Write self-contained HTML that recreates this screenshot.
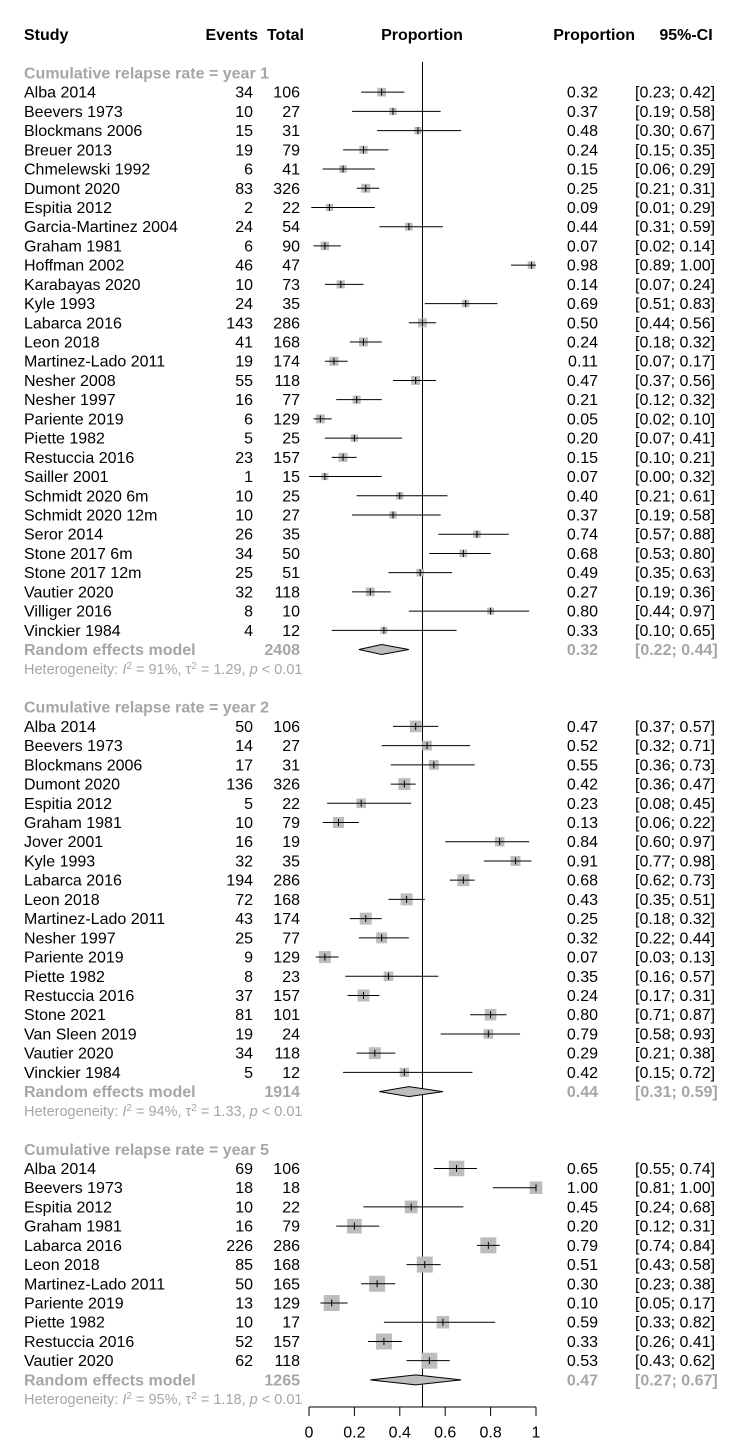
<!DOCTYPE html>
<html><head><meta charset="utf-8"><style>
html,body{margin:0;padding:0;background:#fff;}
svg{display:block;font-family:"Liberation Sans",Arial,sans-serif;}
</style></head><body>
<svg id="plot" width="740" height="1450" viewBox="0 0 740 1450" xmlns="http://www.w3.org/2000/svg"></svg>
<script>
const g1Names=["Alba 2014","Beevers 1973","Blockmans 2006","Breuer 2013","Chmelewski 1992","Dumont 2020","Espitia 2012","Garcia-Martinez 2004","Graham 1981","Hoffman 2002","Karabayas 2020","Kyle 1993","Labarca 2016","Leon 2018","Martinez-Lado 2011","Nesher 2008","Nesher 1997","Pariente 2019","Piette 1982","Restuccia 2016","Sailler 2001","Schmidt 2020 6m","Schmidt 2020 12m","Seror 2014","Stone 2017 6m","Stone 2017 12m","Vautier 2020","Villiger 2016","Vinckier 1984"];
const g1Events=[34,10,15,19,6,83,2,24,6,46,10,24,143,41,19,55,16,6,5,23,1,10,10,26,34,25,32,8,4];
const g1Total=[106,27,31,79,41,326,22,54,90,47,73,35,286,168,174,118,77,129,25,157,15,25,27,35,50,51,118,10,12];
const g1Prop=[0.32,0.37,0.48,0.24,0.15,0.25,0.09,0.44,0.07,0.98,0.14,0.69,0.50,0.24,0.11,0.47,0.21,0.05,0.20,0.15,0.07,0.40,0.37,0.74,0.68,0.49,0.27,0.80,0.33];
const g1Lo=[0.23,0.19,0.30,0.15,0.06,0.21,0.01,0.31,0.02,0.89,0.07,0.51,0.44,0.18,0.07,0.37,0.12,0.02,0.07,0.10,0.00,0.21,0.19,0.57,0.53,0.35,0.19,0.44,0.10];
const g1Hi=[0.42,0.58,0.67,0.35,0.29,0.31,0.29,0.59,0.14,1.00,0.24,0.83,0.56,0.32,0.17,0.56,0.32,0.10,0.41,0.21,0.32,0.61,0.58,0.88,0.80,0.63,0.36,0.97,0.65];
const g1Random=[0.32,0.22,0.44,2408];
const g1Het=["91%","1.29"];

const g2Names=["Alba 2014","Beevers 1973","Blockmans 2006","Dumont 2020","Espitia 2012","Graham 1981","Jover 2001","Kyle 1993","Labarca 2016","Leon 2018","Martinez-Lado 2011","Nesher 1997","Pariente 2019","Piette 1982","Restuccia 2016","Stone 2021","Van Sleen 2019","Vautier 2020","Vinckier 1984"];
const g2Events=[50,14,17,136,5,10,16,32,194,72,43,25,9,8,37,81,19,34,5];
const g2Total=[106,27,31,326,22,79,19,35,286,168,174,77,129,23,157,101,24,118,12];
const g2Prop=[0.47,0.52,0.55,0.42,0.23,0.13,0.84,0.91,0.68,0.43,0.25,0.32,0.07,0.35,0.24,0.80,0.79,0.29,0.42];
const g2Lo=[0.37,0.32,0.36,0.36,0.08,0.06,0.60,0.77,0.62,0.35,0.18,0.22,0.03,0.16,0.17,0.71,0.58,0.21,0.15];
const g2Hi=[0.57,0.71,0.73,0.47,0.45,0.22,0.97,0.98,0.73,0.51,0.32,0.44,0.13,0.57,0.31,0.87,0.93,0.38,0.72];
const g2Random=[0.44,0.31,0.59,1914];
const g2Het=["94%","1.33"];

const g5Names=["Alba 2014","Beevers 1973","Espitia 2012","Graham 1981","Labarca 2016","Leon 2018","Martinez-Lado 2011","Pariente 2019","Piette 1982","Restuccia 2016","Vautier 2020"];
const g5Events=[69,18,10,16,226,85,50,13,10,52,62];
const g5Total=[106,18,22,79,286,168,165,129,17,157,118];
const g5Prop=[0.65,1.00,0.45,0.20,0.79,0.51,0.30,0.10,0.59,0.33,0.53];
const g5Lo=[0.55,0.81,0.24,0.12,0.74,0.43,0.23,0.05,0.33,0.26,0.43];
const g5Hi=[0.74,1.00,0.68,0.31,0.84,0.58,0.38,0.17,0.82,0.41,0.62];
const g5Random=[0.47,0.27,0.67,1265];
const g5Het=["95%","1.18"];

const xTicks=[0,0.2,0.4,0.6,0.8,1];
const xTickLabels=["0","0.2","0.4","0.6","0.8","1"];

const svg=document.getElementById('plot');
const NS="http://www.w3.org/2000/svg";
const X0=309,X1=536;
function xs(v){return X0+(X1-X0)*v;}
function ys(i){return 34.5+i*19.22;}
function mk(tag,attrs,parent){const e=document.createElementNS(NS,tag);for(const k in attrs)e.setAttribute(k,attrs[k]);(parent||svg).appendChild(e);return e;}
function txt(x,y,s,opt){opt=opt||{};const t=mk('text',{x:x,y:y+5.5,'font-size':opt.size||16,fill:opt.fill||'#000','text-anchor':opt.anchor||'start','font-weight':opt.bold?'bold':'normal'});t.textContent=s;return t;}
const GRAY='#a6a6a6';

let t;
t=txt(24,ys(0),"Study",{bold:1});
t=txt(258,ys(0),"Events",{bold:1,anchor:'end'});
t=txt(304,ys(0),"Total",{bold:1,anchor:'end'});
t=txt(422,ys(0),"Proportion",{bold:1,anchor:'middle'});
t=txt(635,ys(0),"Proportion",{bold:1,anchor:'end'});
t=txt(686,ys(0),"95%-CI",{bold:1,anchor:'middle'});

let ref=mk('line',{x1:xs(0.5),x2:xs(0.5),y1:62,y2:1407,stroke:'#000','stroke-width':1});



function f2(v){return v.toFixed(2);}
function group(start,label,names,ev,tot,p,lo,hi,rnd,het,base,gid){
  let h=txt(24,ys(start),label,{bold:1,fill:GRAY});
  
  
  for(let i=0;i<names.length;i++){
    const y=ys(start+1+i);
    const gg=mk('g',{});
    
    
    gg.appendChild(txt(24,y,names[i]));
    gg.appendChild(txt(253,y,String(ev[i]),{anchor:'end'}));
    gg.appendChild(txt(300,y,String(tot[i]),{anchor:'end'}));
    gg.appendChild(txt(598,y,f2(p[i]),{anchor:'end'}));
    gg.appendChild(txt(635,y,"["+f2(lo[i])+"; "+f2(hi[i])+"]"));
    const s=base*(0.75+0.25*Math.min(1,tot[i]/120));
    const box=mk('rect',{x:xs(p[i])-s/2,y:y-s/2,width:s,height:s,fill:'#bdbdbd'},gg);
    
    
    const ln=mk('line',{x1:xs(lo[i]),x2:xs(hi[i]),y1:y,y2:y,stroke:'#000','stroke-width':1},gg);
    
    
    mk('line',{x1:xs(p[i]),x2:xs(p[i]),y1:y-3.5,y2:y+3.5,stroke:'#000','stroke-width':1},gg);
  }
  const ry=ys(start+1+names.length);
  const rg=mk('g',{});
  
  
  rg.appendChild(txt(24,ry,"Random effects model",{bold:1,fill:GRAY}));
  rg.appendChild(txt(300,ry,String(rnd[3]),{bold:1,fill:GRAY,anchor:'end'}));
  rg.appendChild(txt(598,ry,f2(rnd[0]),{bold:1,fill:GRAY,anchor:'end'}));
  rg.appendChild(txt(635,ry,"["+f2(rnd[1])+"; "+f2(rnd[2])+"]",{bold:1,fill:GRAY}));
  const dm=mk('polygon',{points:`${xs(rnd[1])},${ry} ${xs(rnd[0])},${ry-5} ${xs(rnd[2])},${ry} ${xs(rnd[0])},${ry+5}`,fill:'#bdbdbd',stroke:'#000','stroke-width':1},rg);
  
  
  const hy=ys(start+2+names.length);
  const ht=mk('text',{x:24,y:hy+5,'font-size':14.5,fill:GRAY});
  
  
  ht.innerHTML=`Heterogeneity: <tspan font-style="italic">I</tspan><tspan dy="-5" font-size="10">2</tspan><tspan dy="5"> = ${het[0]}, τ</tspan><tspan dy="-5" font-size="10">2</tspan><tspan dy="5"> = ${het[1]}, </tspan><tspan font-style="italic">p</tspan> &lt; 0.01`;
}
group(2,"Cumulative relapse rate = year 1",g1Names,g1Events,g1Total,g1Prop,g1Lo,g1Hi,g1Random,g1Het,9,'year1');
group(35,"Cumulative relapse rate = year 2",g2Names,g2Events,g2Total,g2Prop,g2Lo,g2Hi,g2Random,g2Het,12,'year2');
group(58,"Cumulative relapse rate = year 5",g5Names,g5Events,g5Total,g5Prop,g5Lo,g5Hi,g5Random,g5Het,16,'year5');

const ax=mk('g',{});


mk('line',{x1:xs(xTicks[0]),x2:xs(xTicks[xTicks.length-1]),y1:1407,y2:1407,stroke:'#000','stroke-width':1},ax);
for(let i=0;i<xTicks.length;i++){
  mk('line',{x1:xs(xTicks[i]),x2:xs(xTicks[i]),y1:1407,y2:1416,stroke:'#000','stroke-width':1},ax);
  const tl=txt(xs(xTicks[i]),1432,xTickLabels[i],{anchor:'middle'});
  
  
  ax.appendChild(tl);
}
</script>
</body></html>
